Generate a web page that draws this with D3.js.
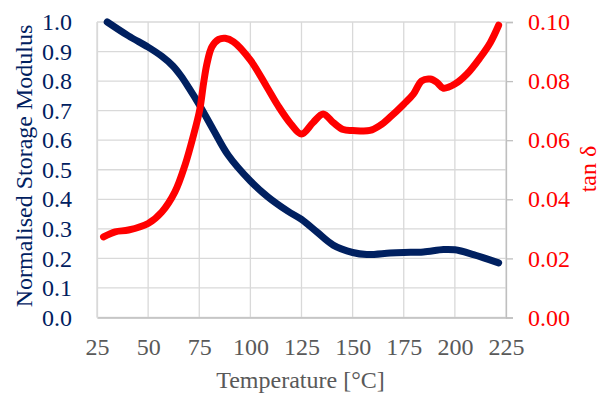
<!DOCTYPE html>
<head>
    <title>DMA - storage modulus and tan delta</title>
    <script src='https://cdn.jsdelivr.net/npm/d3@7'></script>
</head>
<style>
body {
  margin: 0;
  background: #fff;
}
svg text {
  font-family: 'Liberation Serif', 'Times New Roman', Times, serif;
  font-size: 24px;
}
</style>
<body>
    <svg></svg>
</body>

<script>

    // Data
    var xTicks = [25, 50, 75, 100, 125, 150, 175, 200, 225];
    var leftTicks = [0, 0.1, 0.2, 0.3, 0.4, 0.5, 0.6, 0.7, 0.8, 0.9, 1.0];
    var rightTicks = [0, 0.02, 0.04, 0.06, 0.08, 0.10];

    // Normalised storage modulus (left axis)
    var modTemp = [30, 40.4, 50, 56.7, 62, 66, 70, 75, 82, 89.1, 100, 108.6, 118.3, 125, 132.4, 140.5, 150, 156.9, 168.3, 175, 184.6, 194.4, 200, 209.1, 221.4];
    var modVal  = [1.0, 0.953, 0.915, 0.884, 0.852, 0.818, 0.776, 0.72, 0.634, 0.55, 0.462, 0.408, 0.36, 0.332, 0.29, 0.245, 0.22, 0.213, 0.218, 0.22, 0.222, 0.23, 0.229, 0.213, 0.185];

    // tan delta (right axis)
    var tanTemp = [28.2, 33.9, 40.4, 50, 56.7, 63.1, 68, 72.3, 75.2, 77.1, 78.8, 81.2, 84.5, 87.7, 91.8, 100, 108, 113.5, 119.8, 125, 130.7, 135.6, 140.5, 145.4, 150, 158.5, 163.4, 168.3, 175, 179.7, 183.8, 187.9, 191.2, 194.4, 200, 205.9, 212.4, 217.3, 221.4];
    var tanVal  = [0.0273, 0.029, 0.0296, 0.0318, 0.0357, 0.0425, 0.0515, 0.062, 0.0702, 0.0792, 0.086, 0.0916, 0.0941, 0.0945, 0.0933, 0.0871, 0.0781, 0.0717, 0.0655, 0.0621, 0.066, 0.0689, 0.066, 0.0636, 0.0633, 0.0633, 0.065, 0.0678, 0.0722, 0.0756, 0.0801, 0.0807, 0.0796, 0.0776, 0.079, 0.0824, 0.088, 0.093, 0.0989];

    // Variables
    var vWidth = 603;
    var vHeight = 394;
    var plot = { left: 97, right: 506, top: 22, bottom: 317.5 };
    var navy = '#002060';
    var red = '#ff0000';
    var grey = '#595959';

    var svg = d3.select('svg')
        .attr('width', vWidth)
        .attr('height', vHeight);

    var x = d3.scaleLinear().domain([25, 225]).range([plot.left, plot.right]);
    var yL = d3.scaleLinear().domain([0, 1]).range([plot.bottom, plot.top]);
    var yR = d3.scaleLinear().domain([0, 0.1]).range([plot.bottom, plot.top]);

    // Gridlines
    svg.append('g').selectAll('line')
        .data(leftTicks)
        .enter().append('line')
        .attr('x1', plot.left).attr('x2', plot.right)
        .attr('y1', function (d) { return yL(d); })
        .attr('y2', function (d) { return yL(d); })
        .style('stroke', '#d9d9d9').style('stroke-width', 1.3);

    svg.append('g').selectAll('line')
        .data(xTicks)
        .enter().append('line')
        .attr('x1', function (d) { return x(d); })
        .attr('x2', function (d) { return x(d); })
        .attr('y1', plot.top).attr('y2', plot.bottom)
        .style('stroke', '#d9d9d9').style('stroke-width', 1.3);

    // Axes (strip d3's default font attributes so the css serif applies)
    function plain(g) {
        g.attr('font-family', null).attr('font-size', null);
    }

    var xAxis = d3.axisBottom(x).tickValues(xTicks).tickSize(0).tickPadding(20);
    var gx = svg.append('g')
        .attr('transform', 'translate(0,' + plot.bottom + ')')
        .call(xAxis).call(plain);
    gx.select('.domain').style('stroke', '#bfbfbf').style('stroke-width', 1.3);
    gx.selectAll('text').style('fill', grey);

    var leftAxis = d3.axisLeft(yL).tickValues(leftTicks).tickSize(0).tickPadding(25)
        .tickFormat(d3.format('.1f'));
    var gl = svg.append('g')
        .attr('transform', 'translate(' + plot.left + ',0)')
        .call(leftAxis).call(plain);
    gl.select('.domain').style('stroke', '#d9d9d9').style('stroke-width', 1.3);
    gl.selectAll('text').style('fill', navy);

    var rightAxis = d3.axisRight(yR).tickValues(rightTicks).tickSize(7).tickPadding(15)
        .tickFormat(d3.format('.2f'));
    var gr = svg.append('g')
        .attr('transform', 'translate(' + plot.right + ',0)')
        .call(rightAxis).call(plain);
    gr.select('.domain').style('stroke', '#bfbfbf').style('stroke-width', 1.3);
    gr.selectAll('line').style('stroke', '#bfbfbf').style('stroke-width', 1.3);
    gr.selectAll('text').style('fill', red);

    // Lines
    var modLine = d3.line()
        .x(function (d, i) { return x(modTemp[i]); })
        .y(function (d) { return yL(d); })
        .curve(d3.curveCatmullRom);

    var tanLine = d3.line()
        .x(function (d, i) { return x(tanTemp[i]); })
        .y(function (d) { return yR(d); })
        .curve(d3.curveCatmullRom);

    svg.append('path')
        .datum(modVal)
        .attr('d', modLine)
        .style('fill', 'none').style('stroke', navy)
        .style('stroke-width', 7).style('stroke-linecap', 'round').style('stroke-linejoin', 'round');

    svg.append('path')
        .datum(tanVal)
        .attr('d', tanLine)
        .style('fill', 'none').style('stroke', red)
        .style('stroke-width', 7).style('stroke-linecap', 'round').style('stroke-linejoin', 'round');

    // Axis titles
    svg.append('text')
        .attr('x', (plot.left + plot.right) / 2 - 1)
        .attr('y', 388)
        .attr('text-anchor', 'middle')
        .style('fill', grey)
        .text('Temperature [°C]');

    svg.append('text')
        .attr('transform', 'translate(32,166)rotate(-90)')
        .attr('text-anchor', 'middle')
        .style('fill', navy)
        .text('Normalised Storage Modulus');

    svg.append('text')
        .attr('transform', 'translate(596,169)rotate(-90)')
        .attr('text-anchor', 'middle')
        .style('fill', red)
        .text('tan δ');

</script>
